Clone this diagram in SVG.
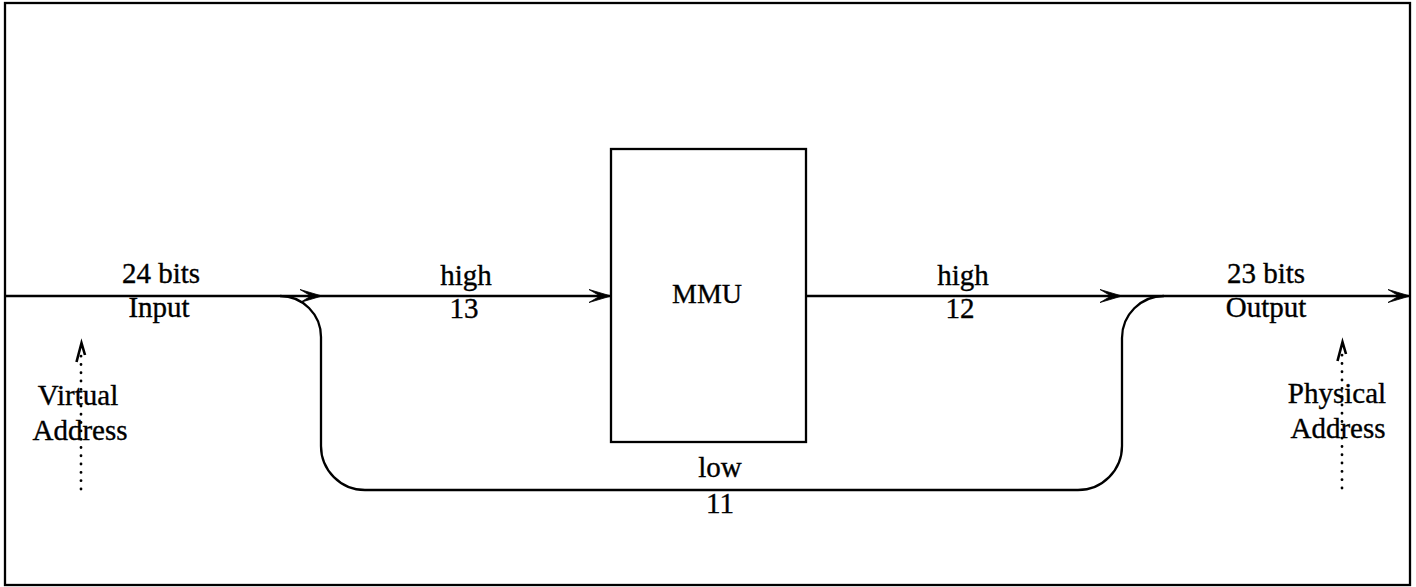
<svg xmlns="http://www.w3.org/2000/svg" width="1416" height="587" viewBox="0 0 1416 587">
<style>
text { font-family: "Liberation Serif", "Times New Roman", serif; font-size: 29px; fill: #000; stroke: #000; stroke-width: 0.35; text-anchor: middle; }
text.mmu { font-size: 28px; }
.line { fill: none; stroke: #000; stroke-width: 2.3; }
.dots { fill: none; stroke: #000; stroke-width: 2.8; stroke-linecap: round; stroke-dasharray: 0.1 8.2; }
.head { fill: none; stroke: #000; stroke-width: 2.6; stroke-linejoin: miter; }
</style>
<defs>
<marker id="arr" markerUnits="userSpaceOnUse" markerWidth="26" markerHeight="18" refX="23" refY="9" orient="auto">
<path d="M1,2.5 L23,9 L1,15.5 L12,9 Z" fill="#000" stroke="#000" stroke-width="0.8" stroke-linejoin="round"/>
</marker>
</defs>
<rect x="0" y="0" width="1416" height="587" fill="#fff"/>
<rect id="frame" x="5" y="3" width="1405" height="582" fill="none" stroke="#000" stroke-width="2.3"/>

<g id="mmu">
<rect x="611" y="149" width="195" height="293" fill="#fff" stroke="#000" stroke-width="2.3"/>
<text class="mmu" x="707" y="303">MMU</text>
</g>

<g id="connectors">
<path class="line" d="M5,296 L322,296" marker-end="url(#arr)"/>
<path class="line" d="M322,296 L611,296" marker-end="url(#arr)"/>
<path class="line" d="M806,296 L1122,296" marker-end="url(#arr)"/>
<path class="line" d="M1122,296 L1410,296" marker-end="url(#arr)"/>
<path class="line" d="M280,296 A41,41 0 0 1 321,337 L321,446 A44,44 0 0 0 365,490 L1078,490 A44,44 0 0 0 1122,446 L1122,338 A42,42 0 0 1 1164,296"/>
<path class="dots" d="M81,489 L81,350"/>
<path class="head" d="M76.5,362 L81.5,343 L85,355"/>
<path class="dots" d="M1342,488 L1342,349"/>
<path class="head" d="M1337.5,361 L1342.5,342 L1346,354"/>
</g>

<g id="input-label">
<text x="161" y="283">24 bits</text>
<text x="159" y="317">Input</text>
</g>
<g id="high13-label">
<text x="466" y="285">high</text>
<text x="464" y="318">13</text>
</g>
<g id="high12-label">
<text x="963" y="285">high</text>
<text x="960" y="318">12</text>
</g>
<g id="output-label">
<text x="1266" y="283">23 bits</text>
<text x="1266" y="317">Output</text>
</g>
<g id="low11-label">
<text x="720" y="477">low</text>
<text x="720" y="513">11</text>
</g>
<g id="virtual-address">
<text x="78" y="405">Virtual</text>
<text x="80" y="440">Address</text>
</g>
<g id="physical-address">
<text x="1337" y="403">Physical</text>
<text x="1338" y="438">Address</text>
</g>
</svg>
